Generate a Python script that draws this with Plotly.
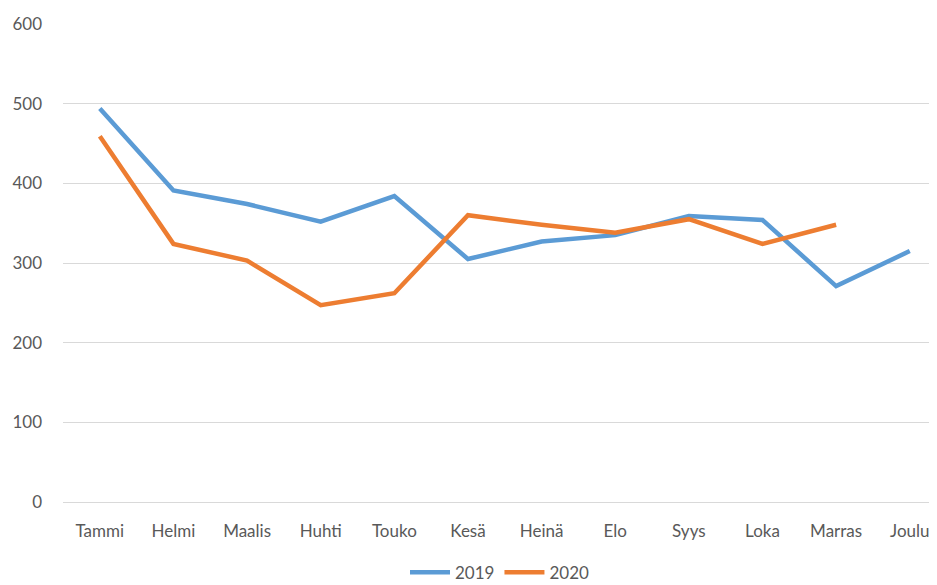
import plotly.graph_objects as go

months = ["Tammi", "Helmi", "Maalis", "Huhti", "Touko", "Kesä", "Heinä", "Elo", "Syys", "Loka", "Marras", "Joulu"]
values_2019 = [494, 391, 374, 352, 384, 305, 327, 335, 359, 354, 271, 315]
values_2020 = [459, 324, 303, 247, 262, 360, 348, 338, 355, 324, 348]

fig = go.Figure()
fig.add_trace(go.Scatter(x=months, y=values_2019, mode="lines", name="2019",
                         line=dict(color="#5B9BD5", width=4.5)))
fig.add_trace(go.Scatter(x=months[:len(values_2020)], y=values_2020, mode="lines", name="2020",
                         line=dict(color="#ED7D31", width=4.5)))

fig.update_layout(
    width=929, height=577,
    margin=dict(l=55, r=0, t=16, b=83, autoexpand=False),
    plot_bgcolor="white", paper_bgcolor="white",
    font=dict(family="Lato, Open Sans, sans-serif", size=17, color="#595959"),
    xaxis=dict(type="category", range=[-0.5, 11.37], showgrid=False, showline=False,
               ticks="", ticklabelstandoff=17, automargin=False),
    yaxis=dict(range=[0, 600], dtick=100, showgrid=True, gridcolor="#D9D9D9", gridwidth=1.3,
               zeroline=True, zerolinecolor="#D9D9D9", zerolinewidth=1.3, showline=False,
               ticks="", ticklabelstandoff=20, automargin=False),
    legend=dict(orientation="h", x=0.5, xanchor="center", y=-0.11, yanchor="top",
                font=dict(size=17, color="#595959"), itemwidth=40, tracegroupgap=0),
    showlegend=True,
)

fig.write_html("out.html")
